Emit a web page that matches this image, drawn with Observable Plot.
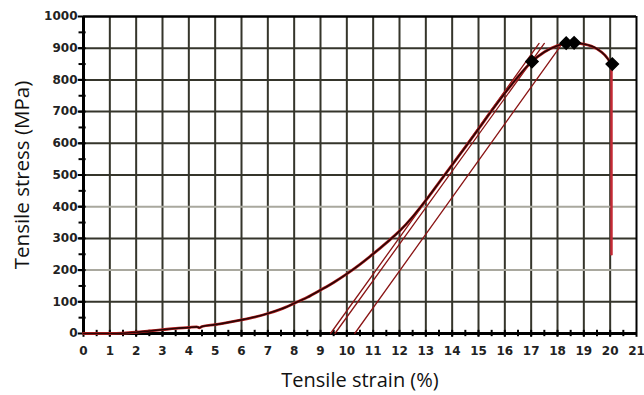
<!DOCTYPE html>
<html><head><meta charset="utf-8">
<script src="https://cdn.jsdelivr.net/npm/d3@7"></script>
<script src="https://cdn.jsdelivr.net/npm/@observablehq/plot@0.6"></script>
<style>body{margin:0;background:#fff}</style>
</head><body><div id="chart"></div>
<script>
// Main loading curve
const strain = [0, 1, 1.5, 2, 2.5, 3, 3.5, 4, 4.3, 4.4, 4.5, 5, 5.5, 6, 6.5, 7, 7.5, 8, 8.5, 9, 9.5, 10, 10.5, 11, 11.5, 12, 12.5, 13, 13.5, 14, 14.5, 15, 15.5, 16, 16.5, 17, 17.5, 18, 18.5, 19, 19.5, 19.8, 20.05];
const stress = [0, 0, 1, 4, 8, 12, 16, 19, 21, 18, 22, 28, 35, 43, 52, 63, 77, 95, 114, 137, 161, 188, 218, 251, 286, 323, 368, 420, 476, 532, 588, 645, 703, 758, 810, 856, 888, 908, 917, 913, 898, 878, 850];
// Final drop
const dropStrain = [20.05, 20.05];
const dropStress = [850, 250];
// Unloading lines
const unload1Strain = [9.38, 17.3];
const unload1Stress = [0, 915];
const unload2Strain = [9.55, 17.5];
const unload2Stress = [0, 915];
const unload3Strain = [10.3, 18.1];
const unload3Stress = [0, 905];
// Diamond markers
const markerStrain = [17.03, 18.33, 18.63, 20.08];
const markerStress = [858, 916, 917, 850];
// Tick labels
const xTickLabels = [0,1,2,3,4,5,6,7,8,9,10,11,12,13,14,15,16,17,18,19,20,21];
const yTickLabels = [0,100,200,300,400,500,600,700,800,900,1000];
const lightGridY = [200, 400];

const main = strain.map((x, i) => ({x, y: stress[i]}));
const drop = dropStrain.map((x, i) => ({x, y: dropStress[i]}));
const un1 = unload1Strain.map((x, i) => ({x, y: unload1Stress[i]}));
const un2 = unload2Strain.map((x, i) => ({x, y: unload2Stress[i]}));
const un3 = unload3Strain.map((x, i) => ({x, y: unload3Stress[i]}));
const markers = markerStrain.map((x, i) => ({x, y: markerStress[i]}));

const xMinor = d3.range(0.5, 21, 0.5);
const yMinor = d3.range(50, 1000, 50);
const gridX = xTickLabels.filter(v => v > 0 && v < 21);
const gridYDark = yTickLabels.filter(v => v > 0 && v < 1000 && !lightGridY.includes(v));

const dark = "#35352b";
const chart = Plot.plot({
  width: 644, height: 395,
  marginLeft: 83, marginRight: 8, marginTop: 16, marginBottom: 62,
  x: {domain: [0, 21], axis: null},
  y: {domain: [0, 1000], axis: null},
  style: {background: "#fff", fontFamily: "DejaVu Sans"},
  marks: [
    Plot.ruleX(gridX, {stroke: dark, strokeWidth: 2}),
    Plot.ruleY(gridYDark, {stroke: dark, strokeWidth: 2}),
    Plot.ruleY(lightGridY, {stroke: "#a9a89e", strokeWidth: 2}),
    Plot.ruleY([1000], {stroke: "#000", strokeWidth: 2.5}),
    Plot.ruleX([21], {stroke: "#000", strokeWidth: 2}),
    Plot.ruleX([0], {stroke: "#000", strokeWidth: 3}),
    Plot.ruleY([0], {stroke: "#000", strokeWidth: 3}),
    Plot.ruleX(xMinor, {y1: -10, y2: 10, stroke: "#000", strokeWidth: 2}),
    Plot.ruleY(yMinor, {x1: -0.17, x2: 0.1, stroke: "#000", strokeWidth: 2}),
    Plot.ruleX(xTickLabels, {y1: -12, y2: 0, stroke: "#000", strokeWidth: 2}),
    Plot.ruleY(yTickLabels, {x1: -0.2, x2: 0, stroke: "#000", strokeWidth: 2}),
    Plot.text(xTickLabels, {x: d => d, y: 0, dy: 18, text: d => String(d), fontSize: 12, fontWeight: "bold", fill: "#222", fontFamily: "DejaVu Sans"}),
    Plot.text(yTickLabels, {x: 0, y: d => d, dx: -6, textAnchor: "end", text: d => String(d), fontSize: 12, fontWeight: "bold", fill: "#222", fontFamily: "DejaVu Sans"}),
    Plot.line(un1, {x: "x", y: "y", stroke: "#8a1515", strokeWidth: 1.3}),
    Plot.line(un2, {x: "x", y: "y", stroke: "#8a1515", strokeWidth: 1.3}),
    Plot.line(un3, {x: "x", y: "y", stroke: "#8a1515", strokeWidth: 1.3}),
    Plot.line(drop, {x: "x", y: "y", stroke: "#c42a35", strokeWidth: 2.5}),
    Plot.line(main, {x: "x", y: "y", stroke: "#b82020", strokeWidth: 2.8, curve: "monotone-x"}),
    Plot.line(main, {x: "x", y: "y", stroke: "#2a0606", strokeWidth: 1.6, curve: "monotone-x"}),
    Plot.dot(markers, {x: "x", y: "y", symbol: "diamond2", r: 5.5, fill: "#000", stroke: "#000"}),
    Plot.text(["Tensile strain (%)"], {frameAnchor: "bottom", dy: 53, fontSize: 20, fontFamily: "Open Sans", fill: "#111"}),
    Plot.text(["Tensile stress (MPa)"], {frameAnchor: "left", textAnchor: "middle", rotate: -90, dx: -61, fontSize: 20.5, fontFamily: "Open Sans", fill: "#111"})
  ]
});
document.getElementById("chart").appendChild(chart);
</script>
</body></html>
